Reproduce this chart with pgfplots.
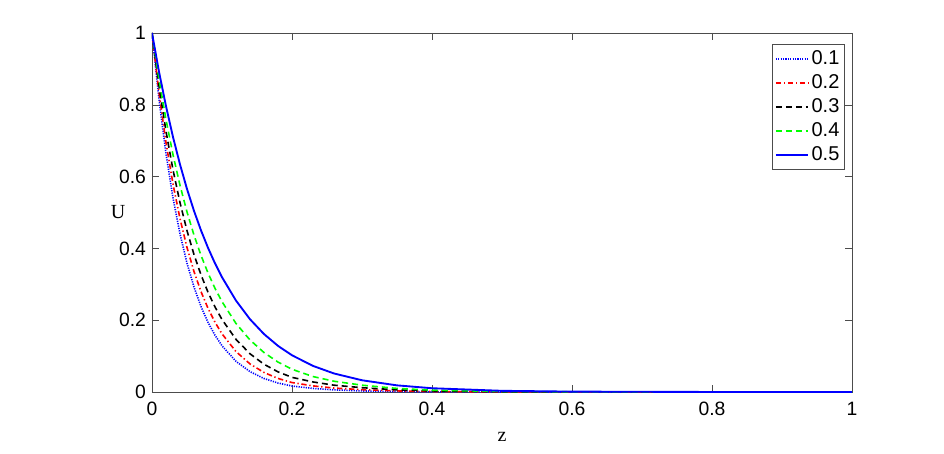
\documentclass[border=0pt]{standalone}
\usepackage{fontspec}
\setmainfont{Liberation Sans}
\newfontfamily\seriffont{Liberation Serif}
\usepackage{pgfplots}
\pgfplotsset{compat=1.18}

\begin{document}
\begin{tikzpicture}
\path[use as bounding box] (-114pt,-45.75pt) rectangle (594pt,294pt);
\begin{axis}[
    scale only axis,
    width=525pt, height=269.25pt,
    xmin=0, xmax=1, ymin=0, ymax=1,
    xtick={0,0.2,0.4,0.6,0.8,1},
    ytick={0,0.2,0.4,0.6,0.8,1},
    tick align=inside,
    major tick length=5pt,
    every tick/.style={black!70},
    axis line style={black!70, line width=0.6pt},
    /pgf/number format/assume math mode=true,
    ticklabel style={font=\fontsize{14.5}{16}\selectfont},
    xticklabel style={yshift=-4pt},
    yticklabel style={xshift=-1pt},
    xlabel={z}, ylabel={U},
    xlabel style={font=\seriffont\fontsize{15}{17}\selectfont, at={(axis description cs:0.5,0)}, anchor=center, yshift=-34pt},
    ylabel style={font=\seriffont\fontsize{15}{17}\selectfont, at={(axis description cs:0,0.5)}, anchor=center, rotate=-90, xshift=-25.5pt},
    legend style={at={(axis description cs:0.99,0.969)}, anchor=north east,
        draw=black!70, font=\fontsize{15}{16}\selectfont,
        inner xsep=2pt, inner ysep=2pt, cells={anchor=west},
        nodes={text height=11pt, text depth=3pt}},
    legend image code/.code={\draw[#1] plot coordinates {(0cm,0cm) (0.85cm,0cm)};},
]
\addplot[blue, line width=1.2pt, dash pattern=on 0.9pt off 0.9pt] coordinates {
(0,1) (0.01,0.8146) (0.02,0.6637) (0.03,0.5407) (0.04,0.4404) (0.05,0.3588)
(0.06,0.2923) (0.07,0.2381) (0.08,0.1940) (0.09,0.1580) (0.10,0.1287)
(0.12,0.0854) (0.14,0.0567) (0.16,0.0376) (0.18,0.0250) (0.20,0.0166)
(0.23,0.0100) (0.26,0.0060) (0.30,0.0030) (0.35,0.0012) (0.40,0.0005)
(0.50,0.0001) (0.60,0) (0.80,0) (1.00,0)
};
\addlegendentry{0.1}
\addplot[red, line width=1.2pt, dash pattern=on 4pt off 2pt on 1pt off 2pt] coordinates {
(0,1) (0.01,0.8336) (0.02,0.6949) (0.03,0.5793) (0.04,0.4829) (0.05,0.4025)
(0.06,0.3355) (0.07,0.2797) (0.08,0.2332) (0.09,0.1944) (0.10,0.1620)
(0.12,0.1126) (0.14,0.0782) (0.16,0.0544) (0.18,0.0378) (0.20,0.0263)
(0.23,0.0170) (0.26,0.0110) (0.30,0.0065) (0.35,0.0030) (0.40,0.0015)
(0.50,0.0003) (0.60,0.0001) (0.80,0) (1.00,0)
};
\addlegendentry{0.2}
\addplot[black, line width=1.2pt, dash pattern=on 4.5pt off 3pt] coordinates {
(0,1) (0.01,0.8521) (0.02,0.7261) (0.03,0.6188) (0.04,0.5273) (0.05,0.4493)
(0.06,0.3829) (0.07,0.3263) (0.08,0.2780) (0.09,0.2369) (0.10,0.2019)
(0.12,0.1466) (0.14,0.1065) (0.16,0.0773) (0.18,0.0561) (0.20,0.0408)
(0.23,0.0280) (0.26,0.0190) (0.30,0.0120) (0.35,0.0060) (0.40,0.0030)
(0.50,0.0008) (0.60,0.0002) (0.80,0) (1.00,0)
};
\addlegendentry{0.3}
\addplot[green, line width=1.2pt, dash pattern=on 4.5pt off 3pt] coordinates {
(0,1) (0.01,0.8711) (0.02,0.7588) (0.03,0.6610) (0.04,0.5758) (0.05,0.5016)
(0.06,0.4369) (0.07,0.3806) (0.08,0.3315) (0.09,0.2888) (0.10,0.2516)
(0.12,0.1909) (0.14,0.1449) (0.16,0.1099) (0.18,0.0834) (0.20,0.0633)
(0.23,0.0430) (0.26,0.0300) (0.30,0.0190) (0.35,0.0100) (0.40,0.0050)
(0.50,0.0015) (0.60,0.0005) (0.80,0) (1.00,0)
};
\addlegendentry{0.4}
\addplot[blue, line width=1.4pt] coordinates {
(0,1) (0.01,0.8923) (0.02,0.7961) (0.03,0.7103) (0.04,0.6338) (0.05,0.5655)
(0.06,0.5046) (0.07,0.4502) (0.08,0.4017) (0.09,0.3584) (0.10,0.3198)
(0.12,0.2546) (0.14,0.2027) (0.16,0.1614) (0.18,0.1285) (0.20,0.1023)
(0.23,0.0727) (0.26,0.0516) (0.30,0.0327) (0.35,0.0185) (0.40,0.0105)
(0.50,0.0033) (0.60,0.0011) (0.80,0.0001) (1.00,0)
};
\addlegendentry{0.5}
\end{axis}
\end{tikzpicture}
\end{document}
